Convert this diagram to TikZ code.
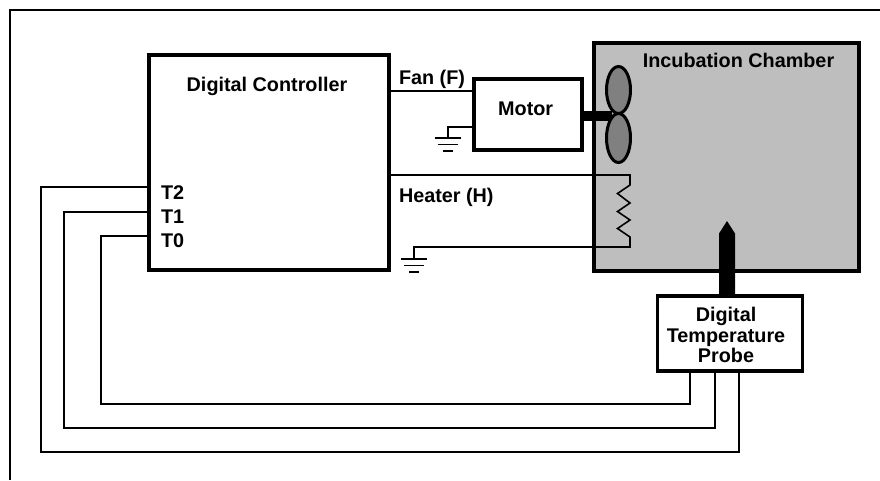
\documentclass[tikz,border=0pt]{standalone}
\usepackage{fontspec}
\setmainfont{Liberation Sans}
\usetikzlibrary{shapes.geometric,calc}
\definecolor{chambergray}{gray}{0.745}
\definecolor{fangray}{gray}{0.5}
\tikzset{
  x=1pt,y=-1pt,
  block/.style={draw=black,line width=3.2pt,fill=white,inner sep=0pt,outer sep=0pt},
  lbl/.style={inner sep=0pt,outer sep=0pt,anchor=base,font=\fontsize{19.8}{20.5}\bfseries\selectfont,align=center},
  wire/.style={draw=black,line width=1.6pt,line join=miter},
  thinwire/.style={draw=black,line width=1.4pt},
  blade/.style={ellipse,draw=black,line width=3pt,fill=fangray,minimum width=24pt,inner sep=0pt,outer sep=0pt},
  gnd/.style={draw=black,line width=1.3pt}
}
\newcommand{\groundsym}[1]{%
  \draw[gnd] ($(#1)+(-13,0)$) -- ($(#1)+(13,0)$);
  \draw[gnd] ($(#1)+(-10,6.5)$) -- ($(#1)+(10,6.5)$);
  \draw[gnd] ($(#1)+(-5,13)$) -- ($(#1)+(5,13)$);
}
\begin{document}
\begin{tikzpicture}
\useasboundingbox (0,0) rectangle (880,480);
\fill[white] (0,0) rectangle (880,480);
% frame
\coordinate (frameBL) at (10,480);
\coordinate (frameTL) at (10,10);
\coordinate (frameTR) at (880,10);
\draw[black,line width=2pt] (frameBL) -- (frameTL) -- (frameTR);
% blocks
\node[block,fill=chambergray,minimum width=265pt,minimum height=228pt] (chamber) at (726.5,157) {};
\node[block,minimum width=240pt,minimum height=215pt] (ctrl) at (269,162.5) {};
\node[block,minimum width=108pt,minimum height=71pt] (motor) at (528,114.5) {};
\node[block,minimum width=145pt,minimum height=75pt] (probe) at (730,333.5) {};
% labels
\node[lbl] (ctrltitle) at (267,91) {Digital Controller};
\node[lbl] (chambertitle) at (738.5,67) {Incubation Chamber};
\node[lbl] (motorlbl) at (525.7,115) {Motor};
\node[lbl,anchor=base west] (fanlbl) at (399,84) {Fan (F)};
\node[lbl,anchor=base west] (heatlbl) at (399,202) {Heater (H)};
\node[lbl,anchor=base west] (t2) at (161,199) {T2};
\node[lbl,anchor=base west] (t1) at (161,223) {T1};
\node[lbl,anchor=base west] (t0) at (161,247) {T0};
\node[lbl,anchor=center] (probelbl) at (726,335) {Digital\\Temperature\\Probe};
% fan
\coordinate (hub) at (612,116);
\draw[black,line width=10.5pt] (motor.east |- hub) -- (hub);
\node[blade,minimum height=47pt] (bladeA) at (618.5,90) {};
\node[blade,minimum height=49pt] (bladeB) at (618.5,138) {};
% fan wire
\coordinate (fanY) at (0,91);
\draw[thinwire] (ctrl.east |- fanY) -- (motor.west |- fanY);
% motor ground
\coordinate (mg) at (448,138);
\coordinate (mgY) at (0,127);
\draw[thinwire] (motor.west |- mgY) -| (mg);
\groundsym{mg}
% heater
\coordinate (hTop) at (630,175);
\coordinate (hBot) at (630,247);
\coordinate (hg) at (414,259);
\draw[wire] (ctrl.east |- hTop) -- (hTop) -- (630,185) -- (617.5,193.5) -- (630,203) -- (617.5,211.5) -- (630,220) -- (617.5,228.5) -- (630,237) -- (hBot) -| (hg);
\groundsym{hg}
% probe arrow
\coordinate (pTip) at (727,221);
\fill[black] (719,296) -- (719,233.5) -- (pTip) -- (735,233.5) -- (735,296) -- cycle;
% probe wires
\coordinate (p0) at (690,404);
\coordinate (p1) at (715,428);
\coordinate (p2) at (739,452);
\coordinate (c0) at (101,236);
\coordinate (c1) at (64,212);
\coordinate (c2) at (41,187);
\draw[wire] (ctrl.west |- c0) -- (c0) |- (p0) -- (p0 |- probe.south);
\draw[wire] (ctrl.west |- c1) -- (c1) |- (p1) -- (p1 |- probe.south);
\draw[wire] (ctrl.west |- c2) -- (c2) |- (p2) -- (p2 |- probe.south);
\end{tikzpicture}
\end{document}
